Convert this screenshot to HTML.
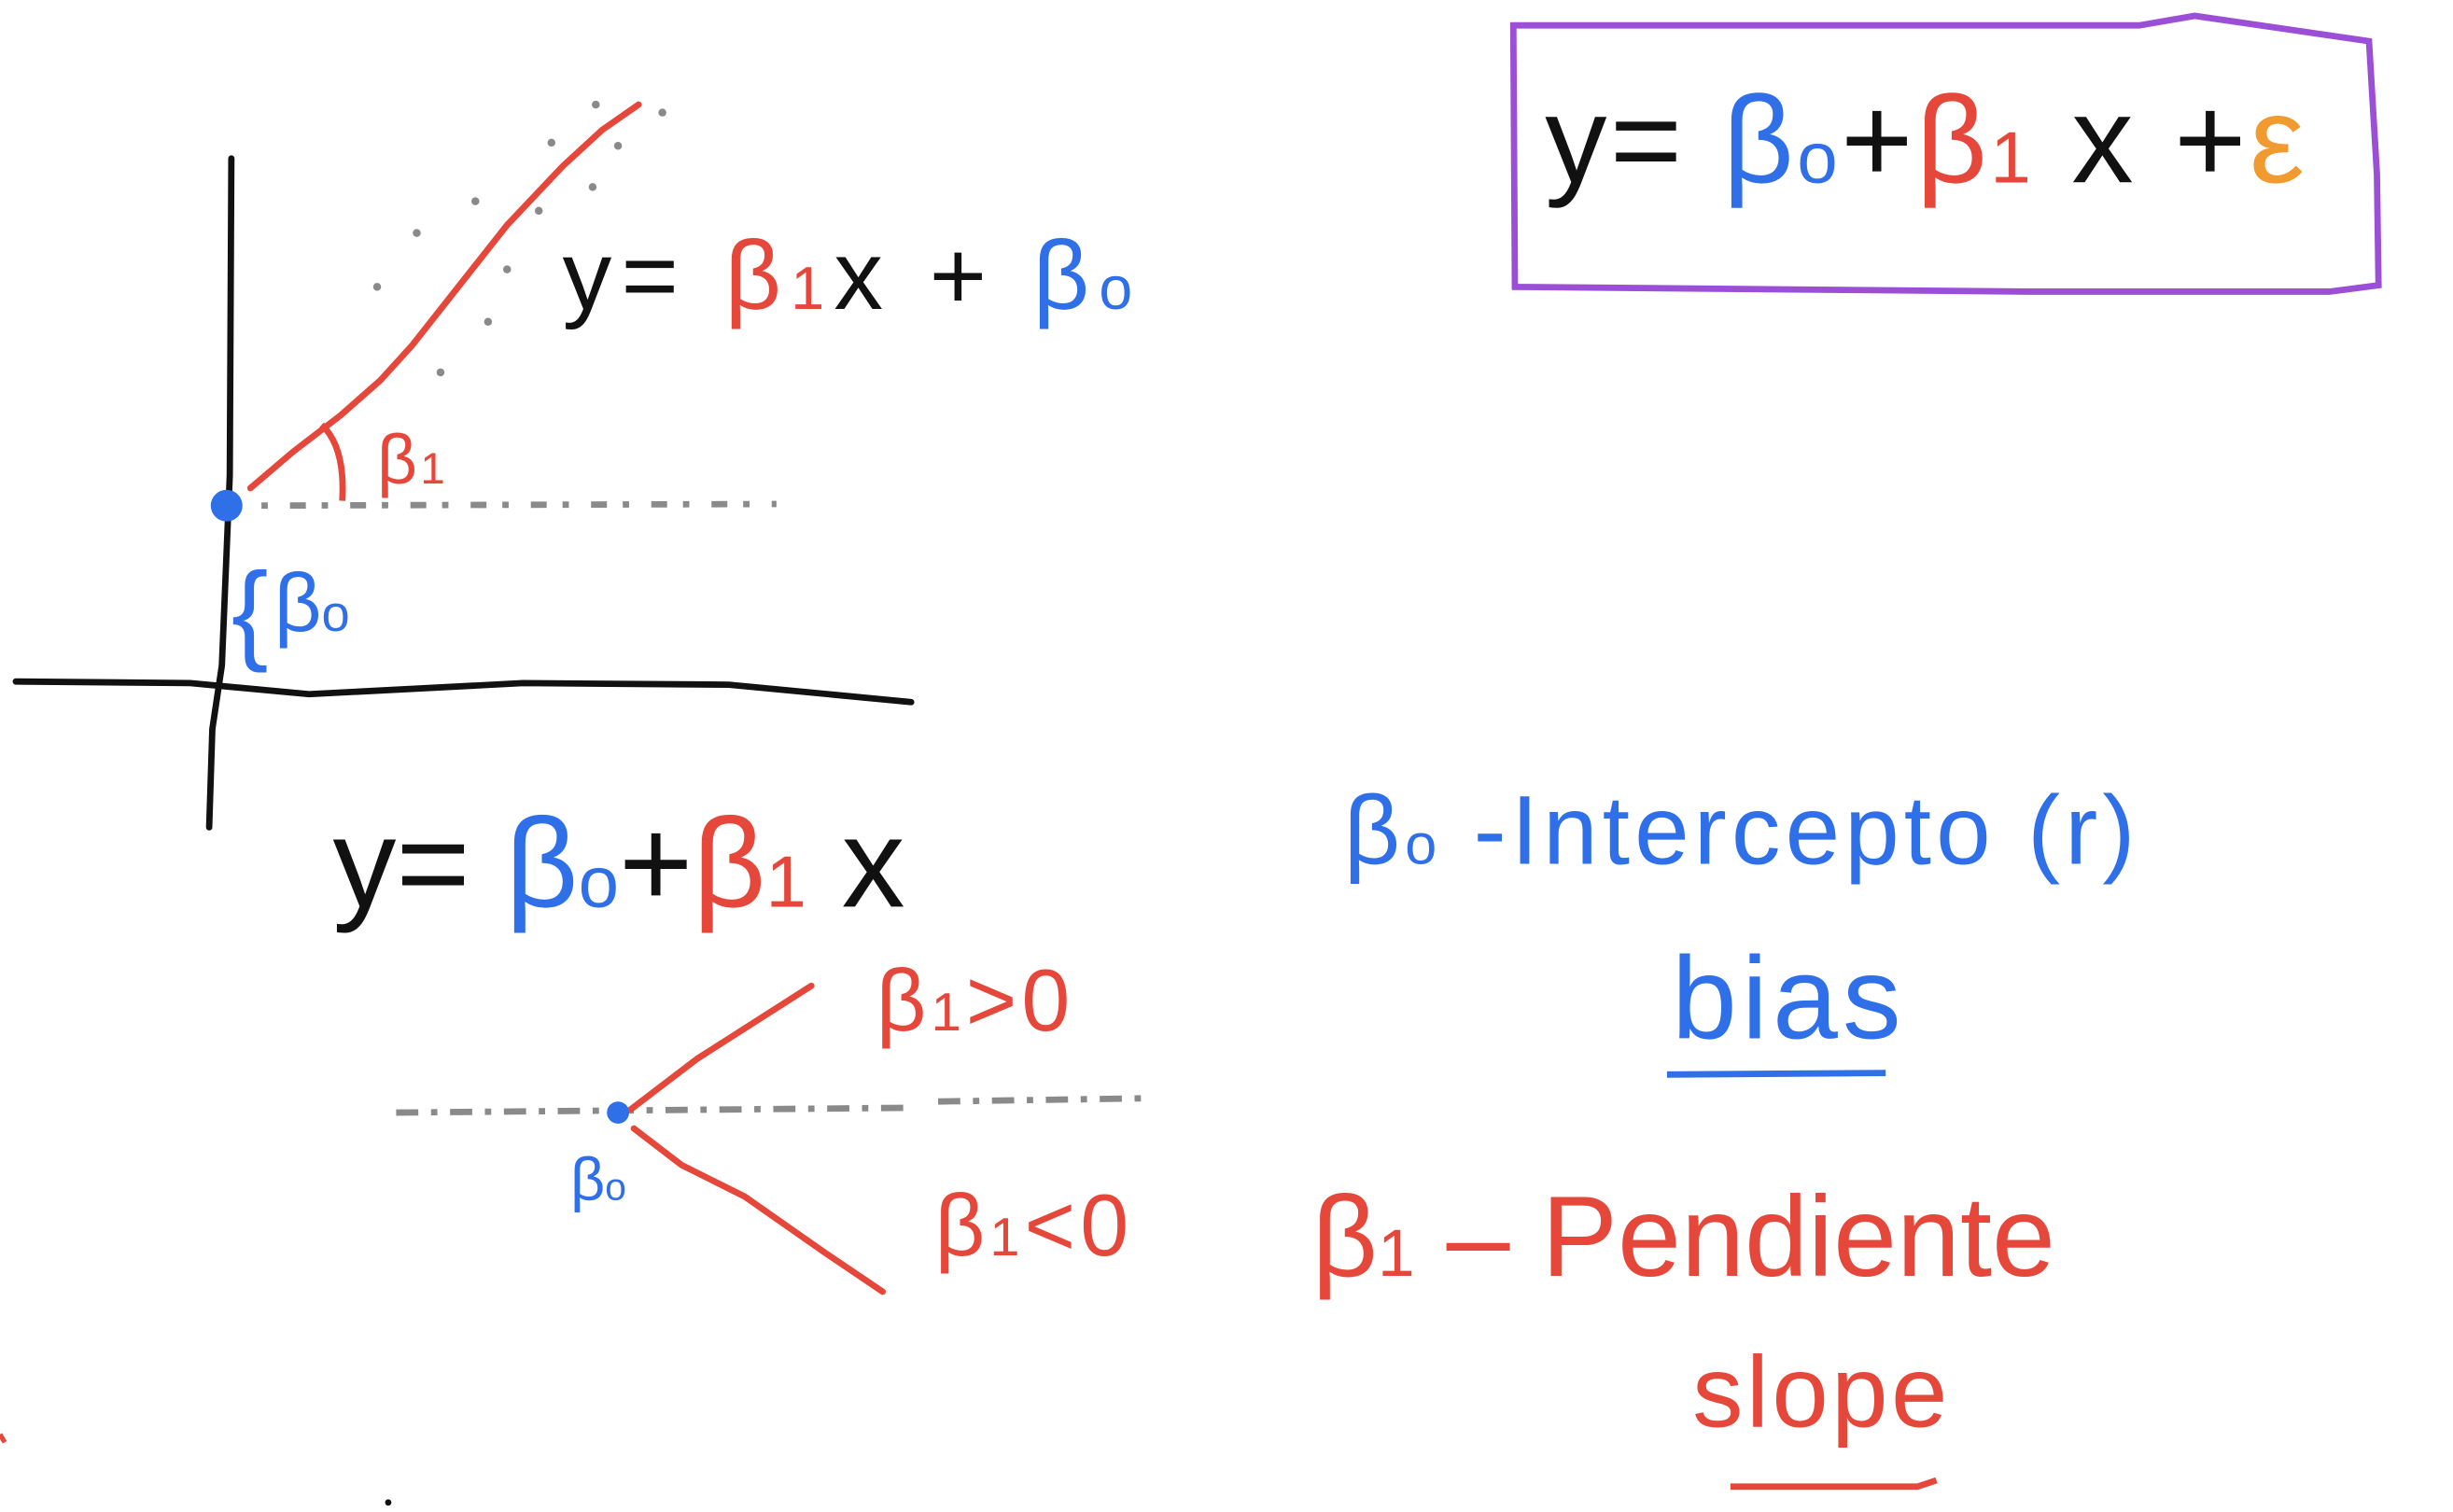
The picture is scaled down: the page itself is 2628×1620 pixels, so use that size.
<!DOCTYPE html>
<html><head><meta charset="utf-8"><style>
html,body{margin:0;padding:0;background:#fff;}
svg{display:block;}
text{font-family:"Liberation Sans",sans-serif;}
</style></head><body>
<svg width="2628" height="1620" viewBox="0 0 1548 954" preserveAspectRatio="none" xmlns="http://www.w3.org/2000/svg">
<g stroke="#111" stroke-width="4" fill="none" stroke-linecap="round">
<path d="M146 100 L145 300 L140 420 L134 460 L132 522"/>
<path d="M10 430 L120 431 L195 438 L330 431 L460 432 L575 443"/>
</g>
<g fill="#8a8a8a">
<circle cx="238" cy="181" r="2.5"/><circle cx="263" cy="147" r="2.5"/><circle cx="278" cy="235" r="2.5"/><circle cx="300" cy="127" r="2.5"/><circle cx="308" cy="203" r="2.5"/><circle cx="320" cy="170" r="2.5"/><circle cx="340" cy="133" r="2.5"/><circle cx="348" cy="90" r="2.5"/><circle cx="374" cy="118" r="2.5"/><circle cx="376" cy="66" r="2.5"/><circle cx="390" cy="92" r="2.5"/><circle cx="418" cy="71" r="2.5"/>
</g>
<path d="M165 319 L490 318" stroke="#8a8a8a" stroke-width="4" stroke-dasharray="4 14 10 10" fill="none"/>
<path d="M158 308 L185 285 L215 262 L240 240 L260 218 L290 180 L320 142 L355 105 L380 82 L403 66" stroke="#e5483a" stroke-width="4" fill="none" stroke-linecap="round"/>
<path d="M203 268 Q218 282 216 316" stroke="#e5483a" stroke-width="4" fill="none"/>
<text x="238" y="305" font-size="44" fill="#e5483a" letter-spacing="2">β<tspan font-size="28">1</tspan></text>
<circle cx="143" cy="319" r="10" fill="#2f6fe8"/>
<text x="146" y="410" font-size="70" fill="#2f6fe8">{</text>
<text x="173" y="398" font-size="52" fill="#2f6fe8">β<tspan font-size="32">o</tspan></text>
<text x="355" y="195" font-size="62" fill="#111" letter-spacing="6">y= <tspan fill="#e5483a">β<tspan font-size="38">1</tspan></tspan>x   + <tspan fill="#2f6fe8">β<tspan font-size="38">o</tspan></tspan></text>
<path d="M955 16 L1350 16 L1385 10 L1495 26 L1500 110 L1501 180 L1470 184 L1280 184 L956 181 Z" stroke="#9b4fd6" stroke-width="4" fill="none"/>
<text x="975" y="115" font-size="78" fill="#111" letter-spacing="2">y= <tspan fill="#2f6fe8">β<tspan font-size="46">o</tspan></tspan>+<tspan fill="#e5483a">β<tspan font-size="46">1</tspan></tspan> x +<tspan fill="#f09a30">ε</tspan></text>
<text x="210" y="572" font-size="80" fill="#111">y= <tspan fill="#2f6fe8">β<tspan font-size="46">o</tspan></tspan>+<tspan fill="#e5483a">β<tspan font-size="46">1</tspan></tspan> x</text>
<path d="M250 702 L570 699 M592 695 L720 693" stroke="#8a8a8a" stroke-width="4" stroke-dasharray="14 8 4 8" fill="none"/>
<path d="M398 700 L440 668 L512 622" stroke="#e5483a" stroke-width="4" fill="none" stroke-linecap="round"/>
<path d="M400 712 L430 735 L470 755 L520 790 L557 815" stroke="#e5483a" stroke-width="4" fill="none" stroke-linecap="round"/>
<circle cx="390" cy="702" r="7" fill="#2f6fe8"/>
<text x="360" y="757" font-size="38" fill="#2f6fe8">β<tspan font-size="24">o</tspan></text>
<text x="553" y="650" font-size="55" fill="#e5483a" letter-spacing="3">β<tspan font-size="34">1</tspan>&gt;0</text>
<text x="590" y="792" font-size="55" fill="#e5483a" letter-spacing="3">β<tspan font-size="34">1</tspan>&lt;0</text>
<text x="848" y="545" font-size="62" fill="#2f6fe8" letter-spacing="3">β<tspan font-size="36">o</tspan> -Intercepto (r)</text>
<text x="1055" y="655" font-size="74" fill="#2f6fe8" letter-spacing="3">bias</text>
<path d="M1052 678 L1190 677" stroke="#2f6fe8" stroke-width="4" fill="none"/>
<text x="828" y="805" font-size="72" fill="#e5483a">β<tspan font-size="42">1</tspan> – Pendiente</text>
<text x="1068" y="900" font-size="64" fill="#e5483a" letter-spacing="2">slope</text>
<path d="M1092 938 L1210 938 L1222 934" stroke="#e5483a" stroke-width="4" fill="none"/>
<circle cx="245" cy="948" r="2" fill="#111"/>
<path d="M0 905 L3 910" stroke="#e5483a" stroke-width="3"/>
</svg>
</body></html>
